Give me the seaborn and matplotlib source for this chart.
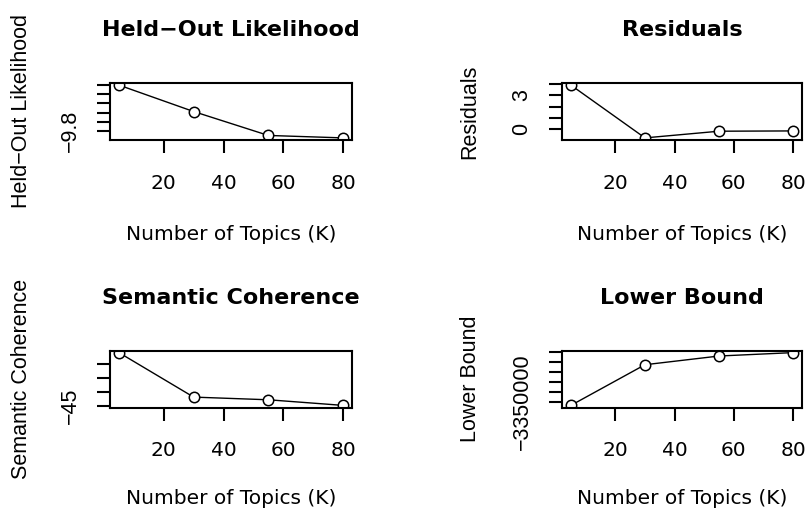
import matplotlib
matplotlib.use("Agg")
import matplotlib.pyplot as plt
import pandas as pd
import seaborn as sns

# Number of topics evaluated
n_topics = [5, 30, 55, 80]

# Diagnostic values for each K
heldout = [-9.297, -9.589, -9.853, -9.880]
residuals = [3.92, -0.78, -0.185, -0.16]
semcoh = [-41.22, -44.39, -44.58, -44.98]
lbound = [-3353400, -3312800, -3304100, -3300700]

x_ticks = [20, 40, 60, 80]
x_tick_labels = ["20", "40", "60", "80"]

heldout_ticks = [-9.8, -9.7, -9.6, -9.5, -9.4, -9.3]
heldout_tick_labels = ["\u22129.8", "", "", "", "", ""]
residual_ticks = [0, 1, 2, 3, 4]
residual_tick_labels = ["0", "", "", "3", ""]
semcoh_ticks = [-45, -44, -43, -42]
semcoh_tick_labels = ["\u221245", "", "", ""]
lbound_ticks = [-3350000, -3340000, -3330000, -3320000, -3310000, -3300000]
lbound_tick_labels = ["\u22123350000", "", "", "", "", ""]

titles = ["Held\u2212Out Likelihood", "Residuals", "Semantic Coherence", "Lower Bound"]
ylabels = ["Held\u2212Out Likelihood", "Residuals", "Semantic Coherence", "Lower Bound"]
xlabel = "Number of Topics (K)"

sns.set_theme(style="ticks")
plt.rcParams["font.family"] = ["DejaVu Sans"]
plt.rcParams["axes.edgecolor"] = "black"
plt.rcParams["axes.facecolor"] = "white"
plt.rcParams["figure.facecolor"] = "white"
plt.rcParams["text.color"] = "black"
plt.rcParams["axes.labelcolor"] = "black"
plt.rcParams["xtick.color"] = "black"
plt.rcParams["ytick.color"] = "black"

W, H = 809, 512
fig = plt.figure(figsize=(W / 100, H / 100), dpi=100)

# panel boxes in pixels: (left, right) per column, (top, bottom) per row
cols = [(110, 352), (562, 802)]
rows = [(83, 140), (350.5, 407.5)]
title_y = [30, 298]
xlabel_y = [235, 499]
ylabel_x = [21, 470]

panels = [
    (0, 0, heldout, heldout_ticks, heldout_tick_labels),
    (0, 1, residuals, residual_ticks, residual_tick_labels),
    (1, 0, semcoh, semcoh_ticks, semcoh_tick_labels),
    (1, 1, lbound, lbound_ticks, lbound_tick_labels),
]

FS = 14.5          # horizontal text
FS_V = 15.5        # rotated text along the y axis
VFAMILY = ["Liberation Sans", "DejaVu Sans"]

for i, (r, c, vals, yt, ytl) in enumerate(panels):
    x0, x1 = cols[c]
    y0, y1 = rows[r]
    ax = fig.add_axes([x0 / W, 1 - y1 / H, (x1 - x0) / W, (y1 - y0) / H])
    df = pd.DataFrame({"K": n_topics, "value": vals})
    sns.lineplot(data=df, x="K", y="value", ax=ax, color="black", lw=1.0,
                 marker="o", markersize=7.5, markerfacecolor="white",
                 markeredgecolor="black", markeredgewidth=1.1)

    # R-style 4% padding around the data range
    xr = max(n_topics) - min(n_topics)
    ax.set_xlim(min(n_topics) - 0.04 * xr, max(n_topics) + 0.04 * xr)
    yr = max(vals) - min(vals)
    ax.set_ylim(min(vals) - 0.04 * yr, max(vals) + 0.04 * yr)

    ax.set_xticks(x_ticks)
    ax.set_xticklabels(x_tick_labels)
    ax.set_yticks(yt)
    ax.set_yticklabels(ytl)

    for s in ax.spines.values():
        s.set_visible(True)
        s.set_linewidth(1.5)
        s.set_color("black")
    ax.tick_params(axis="both", direction="out", length=9.2, width=1.5,
                   color="black", labelsize=FS, labelcolor="black")
    ax.tick_params(axis="x", pad=15)
    ax.tick_params(axis="y", pad=12, labelrotation=90, labelsize=FS_V)
    for lab in ax.get_yticklabels():
        lab.set_va("center")
        lab.set_family(VFAMILY)

    hgt = y1 - y0
    wid = x1 - x0
    ax.set_title(titles[i], fontsize=16, fontweight="bold", color="black",
                 y=(y1 - title_y[r]) / hgt, va="center", pad=0)
    ax.set_xlabel(xlabel, fontsize=FS, color="black")
    ax.xaxis.set_label_coords(0.5, (y1 - xlabel_y[r]) / hgt)
    ax.xaxis.label.set_va("center")
    ax.set_ylabel(ylabels[i], fontsize=FS_V, color="black", family=VFAMILY)
    ax.yaxis.set_label_coords((ylabel_x[c] - x0) / wid, 0.5)
    ax.yaxis.label.set_va("center")
    ax.yaxis.label.set_ha("center")

fig.savefig("out.png", dpi=100)
